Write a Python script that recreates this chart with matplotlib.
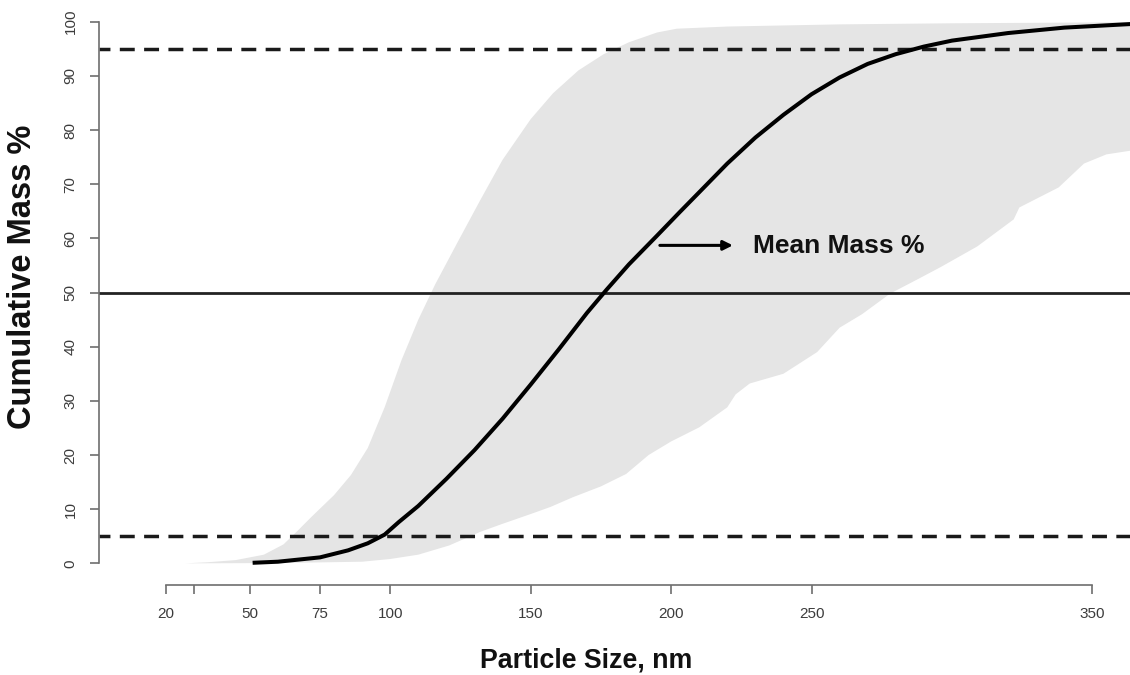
"""Cumulative mass % vs particle size: mean curve with min/max envelope."""

import matplotlib
matplotlib.use("Agg")
import matplotlib.pyplot as plt
import numpy as np

plt.rcParams["font.family"] = ["Liberation Sans", "DejaVu Sans"]

# Mean cumulative mass curve (nm, %)
mean_x = [51, 60, 75, 85, 92, 98, 103, 110, 120, 130, 140, 150, 160, 170,
          177, 185, 195, 203, 210, 220, 230, 240, 250, 260, 270, 280, 290,
          300, 320, 340, 365]
mean_y = [0.1, 0.3, 1.1, 2.4, 3.7, 5.3, 7.6, 10.6, 15.6, 20.9, 26.7, 33.0,
          39.5, 46.2, 50.5, 55.2, 60.5, 64.8, 68.5, 73.8, 78.6, 82.8, 86.6,
          89.7, 92.2, 94.0, 95.4, 96.5, 97.9, 98.9, 99.6]

# Upper (left) edge of the shaded envelope
upper_x = [27, 35, 45, 55, 62, 67, 72, 80, 86, 92, 98, 104, 110, 116, 124,
           132, 140, 150, 158, 167, 176, 185, 195, 202, 220, 260, 300, 365]
upper_y = [0, 0.2, 0.6, 1.6, 3.5, 6.0, 8.6, 12.6, 16.3, 21.3, 28.8, 37.5,
           45.0, 51.5, 59.3, 67.0, 74.5, 82.0, 86.8, 91.0, 94.0, 96.2, 98.0,
           98.7, 99.1, 99.5, 99.7, 99.9]

# Lower (right) edge of the shaded envelope
lower_x = [27, 60, 90, 100, 110, 121, 132, 140, 150, 157, 165, 175, 184,
           192, 200, 210, 220, 223, 228, 240, 246, 252, 260, 268, 278, 288,
           296, 309, 322, 324, 338, 347, 355, 365]
lower_y = [0, 0.05, 0.3, 0.8, 1.6, 3.3, 5.8, 7.3, 9.1, 10.4, 12.2, 14.2,
           16.5, 20.0, 22.5, 25.1, 28.8, 31.2, 33.2, 35.0, 37.0, 39.0, 43.5,
           46.0, 49.8, 52.5, 54.7, 58.5, 63.5, 65.7, 69.4, 73.8, 75.5, 76.3]

x_ticks = [20, 30, 50, 75, 100, 150, 200, 250, 350]
x_tick_labels = ["20", "", "50", "75", "100", "150", "200", "250", "350"]
y_ticks = [0, 10, 20, 30, 40, 50, 60, 70, 80, 90, 100]

ref_dashed = [5, 95]
ref_solid = 50

AXIS_GREY = "#6e6e6e"

fig = plt.figure(figsize=(11.3, 6.75), dpi=100)
ax = fig.add_axes([99 / 1130, 1 - 585 / 675, 1 - 99 / 1130, 585 / 675])

ax.fill(np.concatenate([upper_x, lower_x[::-1]]),
        np.concatenate([upper_y, lower_y[::-1]]),
        color="#e5e5e5", linewidth=0, zorder=1)

for yv in ref_dashed:
    ax.axhline(yv, color="#1a1a1a", linewidth=2.5,
               linestyle=(1.15, (4.3, 2.7)), zorder=2)
ax.axhline(ref_solid, color="#222222", linewidth=2.0, zorder=2)

ax.plot(mean_x, mean_y, color="black", linewidth=2.9,
        solid_capstyle="butt", solid_joinstyle="round", zorder=3)

ax.annotate("", xy=(222, 58.7), xytext=(196, 58.7),
            arrowprops=dict(arrowstyle="-|>", color="black", lw=2.2,
                            mutation_scale=14, shrinkA=0, shrinkB=0))
ax.text(229, 58.5, "Mean Mass %", ha="left", va="center",
        fontsize=19, fontweight="bold", color="#111111")

ax.set_xlim(-3.7, 363.4)
ax.set_ylim(-4, 104)

for side in ("top", "right"):
    ax.spines[side].set_visible(False)
ax.spines["left"].set_bounds(0, 100)
ax.spines["bottom"].set_bounds(20, 350)
for side in ("left", "bottom"):
    ax.spines[side].set_color(AXIS_GREY)
    ax.spines[side].set_linewidth(1.2)

ax.set_xticks(x_ticks)
ax.set_xticklabels(x_tick_labels)
ax.set_yticks(y_ticks)
ax.tick_params(axis="both", direction="out", length=6.5, width=1.2,
               color=AXIS_GREY, labelcolor="#3c3c3c", labelsize=11)
ax.tick_params(axis="x", pad=9)
ax.tick_params(axis="y", pad=9)
for lab in ax.get_yticklabels():
    lab.set_rotation(90)
    lab.set_va("center")

fig.text(586 / 1130, 1 - 660 / 675, "Particle Size, nm", ha="center",
         va="center", fontsize=19.3, fontweight="bold", color="#111111")
fig.text(23 / 1130, 1 - 277 / 675, "Cumulative Mass %", ha="center",
         va="center", rotation=90, fontsize=23.5, fontweight="bold",
         color="#111111")

fig.savefig("out.png", dpi=100)
